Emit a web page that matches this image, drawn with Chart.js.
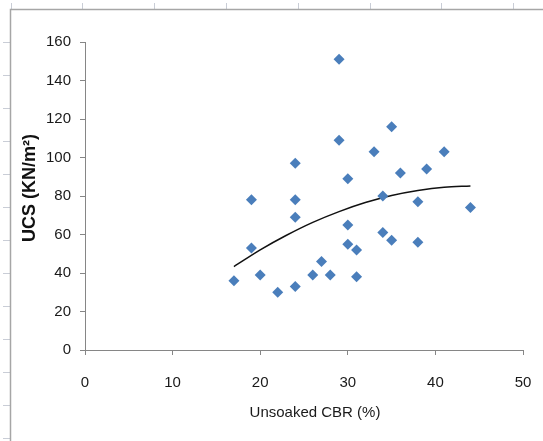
<!DOCTYPE html>
<html>
<head>
<meta charset="utf-8">
<script src="https://cdn.jsdelivr.net/npm/chart.js@4"></script>
<style>
  body { margin: 0; background: #fff; }
  #wrap { width: 543px; height: 441px; position: relative; }
</style>
</head>
<body>
<div id="wrap"><canvas id="ucs-chart"></canvas></div>
<script>
// Unsoaked CBR (%) vs UCS (KN/m2)
const cbr = [17, 19, 19, 20, 22, 24, 24, 24, 24, 26, 27, 28, 29, 29, 30,
             30, 30, 31, 31, 33, 34, 34, 35, 35, 36, 38, 38, 39, 41, 44];
const ucs = [36, 78, 53, 39, 30, 97, 78, 69, 33, 39, 46, 39, 151, 109, 89,
             65, 55, 52, 38, 103, 80, 61, 116, 57, 92, 77, 56, 94, 103, 74];

// polynomial trendline
const trendX = [17, 20, 23, 26, 29, 32, 35, 38, 41, 44];
const trendY = [43.3, 52, 59.6, 66.3, 71.9, 76.6, 80.3, 82.9, 84.6, 85.2];

const xTicks = [0, 10, 20, 30, 40, 50];
const yTicks = [0, 20, 40, 60, 80, 100, 120, 140, 160];

const xTitle = 'Unsoaked CBR (%)';
const yTitle = 'UCS (KN/m²)';

const sans = "'Liberation Sans', Arial, sans-serif";
const axisGray = '#868686';

// spreadsheet frame behind the chart
const sheetFrame = {
    id: 'sheetFrame',
    beforeDraw(chart) {
        const c = chart.ctx;
        c.save();
        c.fillStyle = '#fff';
        c.fillRect(0, 0, chart.width, chart.height);
        c.strokeStyle = '#c9cdd6';
        c.lineWidth = 1;
        c.beginPath();
        for (let x = 10.5; x < chart.width; x += 71.8) {
            c.moveTo(Math.round(x) + 0.5, 3);
            c.lineTo(Math.round(x) + 0.5, 9);
        }
        for (let y = 42; y < chart.height; y += 33) {
            c.moveTo(3, y + 0.5);
            c.lineTo(10, y + 0.5);
        }
        c.stroke();
        c.strokeStyle = '#a6a6a6';
        c.lineWidth = 1.5;
        c.beginPath();
        c.moveTo(10.5, chart.height);
        c.lineTo(10.5, 9.5);
        c.lineTo(chart.width, 9.5);
        c.stroke();
        c.restore();
    }
};

// axis titles placed like the excel original (a bit off-centre)
const axisTitles = {
    id: 'axisTitles',
    afterDraw(chart) {
        const c = chart.ctx;
        const area = chart.chartArea;
        c.save();
        c.textAlign = 'center';
        c.textBaseline = 'middle';
        c.fillStyle = '#1a1a1a';
        c.font = '15px ' + sans;
        c.fillText(xTitle, (area.left + area.right) / 2 + 11, area.bottom + 63);
        c.translate(30.5, (area.top + area.bottom) / 2 - 8);
        c.rotate(-Math.PI / 2);
        c.fillStyle = '#111';
        c.font = 'bold 18px ' + sans;
        c.fillText(yTitle, 0, 0);
        c.restore();
    }
};

const points = cbr.map((x, i) => ({ x: x, y: ucs[i] }));
const trend = trendX.map((x, i) => ({ x: x, y: trendY[i] }));

const ctx = document.getElementById('ucs-chart').getContext('2d');
const chart = new Chart(ctx, {
    type: 'scatter',
    data: {
        datasets: [
            {
                label: 'UCS',
                data: points,
                pointStyle: 'rectRot',
                pointRadius: 5.5,
                backgroundColor: '#4a7ebb',
                borderColor: '#4a7ebb',
                borderWidth: 0
            },
            {
                label: 'Poly. trend',
                data: trend,
                showLine: true,
                pointRadius: 0,
                borderColor: '#111',
                borderWidth: 1.5,
                tension: 0.4,
                cubicInterpolationMode: 'monotone'
            }
        ]
    },
    options: {
        responsive: true,
        maintainAspectRatio: false,
        animation: false,
        layout: { padding: { top: 42, right: 20, left: 0, bottom: 0 } },
        plugins: {
            legend: { display: false },
            tooltip: { enabled: false }
        },
        scales: {
            x: {
                type: 'linear',
                min: 0,
                max: 50,
                afterBuildTicks: s => { s.ticks = xTicks.map(v => ({ value: v })); },
                afterFit: s => { s.height = 91; s.paddingLeft = 0; s.paddingRight = 0; },
                grid: { drawOnChartArea: false, tickLength: 5, color: axisGray },
                border: { color: axisGray, width: 1 },
                ticks: { color: '#1a1a1a', padding: 19, font: { family: sans, size: 15 } }
            },
            y: {
                type: 'linear',
                min: 0,
                max: 160,
                afterBuildTicks: s => { s.ticks = yTicks.map(v => ({ value: v })); },
                afterFit: s => { s.width = 85; s.paddingTop = 0; s.paddingBottom = 0; },
                grid: { drawOnChartArea: false, tickLength: 5, color: axisGray },
                border: { color: axisGray, width: 1 },
                ticks: { color: '#1a1a1a', padding: 9, font: { family: sans, size: 15 } }
            }
        }
    },
    plugins: [sheetFrame, axisTitles]
});
</script>
</body>
</html>
